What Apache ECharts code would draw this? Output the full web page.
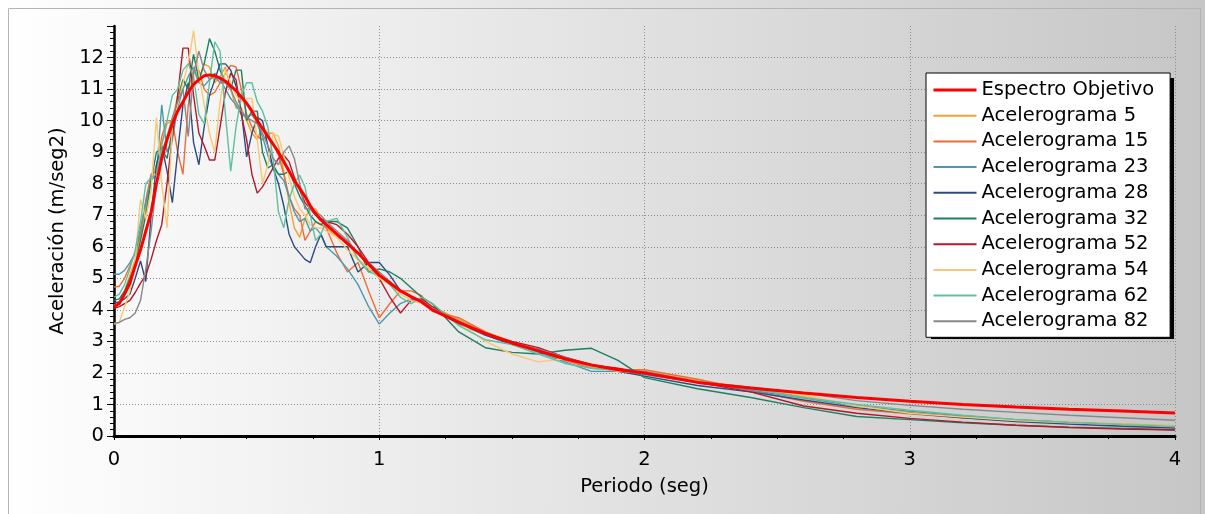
<!DOCTYPE html>
<html>
<head>
<meta charset="utf-8">
<script src="https://cdn.jsdelivr.net/npm/echarts@6/dist/echarts.min.js"></script>
<style>
  html, body { margin: 0; padding: 0; }
  body { width: 1205px; height: 514px; background: linear-gradient(to right, #ffffff 0%, #c6c6c6 100%); overflow: hidden; }
  #chart { width: 1205px; height: 514px; }
</style>
</head>
<body>
<div id="chart"></div>
<script>
// Periods (s)
const periods = [0,0.02,0.04,0.06,0.08,0.1,0.12,0.14,0.16,0.18,0.2,0.22,0.24,0.26,0.28,0.3,0.32,0.34,0.36,0.38,0.4,0.42,0.44,0.46,0.48,0.5,0.52,0.54,0.56,0.58,0.6,0.62,0.64,0.66,0.68,0.7,0.72,0.74,0.76,0.78,0.8,0.84,0.88,0.92,0.96,1.0,1.04,1.08,1.12,1.16,1.2,1.3,1.4,1.5,1.6,1.7,1.8,1.9,2.0,2.2,2.4,2.6,2.8,3.0,3.2,3.4,3.6,3.8,4.0];

const espectroObjetivo = [4.1,4.2,4.5,4.85,5.4,5.9,6.5,7.1,8.0,8.8,9.4,
  9.9,10.3,10.6,10.9,11.15,11.3,11.42,11.45,11.42,11.35,
  11.25,11.1,10.95,10.75,10.55,10.3,10.0,9.75,9.5,9.25,
  9.0,8.7,8.4,8.1,7.85,7.6,7.3,7.05,6.85,6.7,
  6.4,6.1,5.8,5.45,
  5.1,4.85,4.6,4.42,4.25,4.0,3.6,3.25,2.95,2.7,2.45,2.25,2.1,
  2.0,1.7,1.52,1.36,1.22,1.1,1.0,0.92,0.85,0.79,0.73];

const acel5 = [4.15,4.2,4.6,5.1,5.6,6.4,7.2,8.1,8.6,9.3,9.9,
  10.0,10.8,11.3,11.0,11.6,11.2,11.8,11.7,11.2,11.4,
  11.7,11.0,10.4,10.4,10.0,9.6,9.4,9.8,9.6,9.6,
  9.2,8.4,7.4,6.6,6.3,6.9,7.2,7.2,6.9,6.6,
  6.3,6.2,5.6,5.3,
  5.0,4.9,4.6,4.4,4.3,4.1,3.7,3.3,3.0,2.75,2.5,2.25,2.1,
  2.05,1.75,1.5,1.25,0.98,0.75,0.62,0.52,0.44,0.38,0.33];

const acel15 = [4.72,4.75,5.0,5.4,5.8,6.4,7.5,8.3,8.4,9.5,10.0,
  10.0,9.0,8.3,10.5,11.6,11.6,11.0,10.8,10.9,11.2,
  11.5,11.75,11.7,11.0,10.2,9.8,9.5,9.4,9.5,9.3,
  8.9,8.3,7.6,7.2,7.0,6.2,6.5,6.8,6.7,6.6,
  5.8,5.2,5.5,4.6,
  3.75,4.2,4.6,4.6,4.45,3.95,3.75,3.3,2.95,2.7,2.4,2.15,2.1,
  2.1,1.8,1.45,1.1,0.85,0.7,0.58,0.48,0.4,0.34,0.28];

const acel23 = [5.13,5.13,5.25,5.5,5.8,6.6,7.4,8.1,8.3,10.5,9.0,
  9.4,10.4,11.0,11.4,11.7,11.2,11.1,11.3,11.5,11.3,
  11.0,10.7,10.5,10.2,10.1,10.2,9.9,9.5,8.9,8.5,
  8.3,8.1,7.6,7.1,6.8,6.9,6.5,6.6,6.4,6.0,
  5.7,5.3,4.8,4.1,
  3.55,3.9,4.2,4.35,4.3,4.05,3.55,3.2,2.95,2.65,2.35,2.05,2.05,
  1.95,1.7,1.45,1.2,0.95,0.78,0.64,0.52,0.43,0.36,0.31];

const acel28 = [4.22,4.25,4.35,4.5,5.0,5.55,4.9,7.0,8.6,9.2,8.4,
  7.4,9.0,10.5,11.2,9.3,8.6,9.8,10.8,11.3,11.8,
  11.8,11.6,11.1,10.3,8.85,9.6,10.1,10.0,9.2,8.5,
  8.0,7.3,6.4,6.0,5.8,5.6,5.5,6.0,6.4,6.0,
  6.0,6.0,5.2,5.5,
  5.5,5.1,4.6,4.4,4.3,4.0,3.6,3.2,2.9,2.75,2.45,2.2,2.05,
  1.9,1.6,1.4,1.14,0.9,0.72,0.58,0.46,0.38,0.31,0.25];

const acel32 = [4.3,4.35,4.6,5.0,5.4,6.2,7.0,8.1,9.0,9.1,8.8,
  9.7,10.6,11.3,11.0,12.1,11.3,11.8,12.6,12.2,11.6,
  11.2,11.0,11.6,11.6,10.0,10.3,10.3,9.0,8.5,8.6,
  8.3,8.3,8.4,8.0,7.6,7.3,7.0,6.8,6.7,6.8,
  6.8,6.6,6.0,5.2,
  5.3,5.2,5.0,4.7,4.4,4.2,3.3,2.8,2.65,2.6,2.72,2.78,2.4,
  1.85,1.5,1.22,0.9,0.62,0.52,0.42,0.34,0.28,0.24,0.2];

const acel52 = [4.05,4.1,4.2,4.3,4.55,4.85,5.1,5.6,6.2,6.7,8.0,
  9.5,10.8,12.3,12.3,10.8,9.6,9.2,8.75,8.75,9.8,
  10.9,11.5,11.3,10.2,9.4,8.3,7.7,7.9,8.2,8.5,
  8.8,8.9,8.7,8.2,7.8,7.4,7.2,7.0,6.9,6.8,
  6.7,6.4,6.0,5.5,
  5.0,4.4,3.9,4.3,4.35,4.1,3.6,3.25,3.0,2.8,2.5,2.25,2.15,
  2.0,1.7,1.4,0.95,0.72,0.56,0.44,0.34,0.27,0.22,0.19];

const acel54 = [3.55,3.6,4.1,4.6,5.6,7.5,6.9,7.8,10.1,8.0,6.6,
  9.8,10.5,11.2,11.8,12.85,11.5,10.5,9.6,9.0,10.6,
  11.6,11.2,10.8,10.6,10.7,10.7,9.4,8.0,8.6,9.6,
  9.5,8.9,8.2,7.6,7.2,7.0,6.7,6.6,6.6,6.5,
  6.3,5.9,5.6,5.3,
  5.0,4.8,4.5,4.3,4.2,4.05,3.6,3.0,2.6,2.35,2.45,2.2,2.05,
  2.0,1.72,1.55,1.3,0.95,0.72,0.6,0.49,0.42,0.36,0.32];

const acel62 = [4.4,4.5,4.8,5.3,5.9,6.8,8.0,8.2,8.3,9.2,10.0,
  10.8,11.0,11.6,11.8,11.4,10.2,9.9,11.2,12.5,12.2,
  10.2,8.4,9.8,10.8,11.2,11.2,10.6,10.3,9.8,8.8,
  7.1,6.6,7.5,8.0,8.27,7.9,7.0,6.2,6.4,6.8,
  6.9,6.3,5.6,5.2,
  5.1,4.8,4.4,4.2,4.4,4.2,3.5,3.05,2.9,2.6,2.3,2.15,2.1,
  2.0,1.7,1.5,1.22,1.0,0.82,0.66,0.52,0.43,0.36,0.3];

const acel82 = [3.58,3.6,3.7,3.75,3.9,4.3,5.3,6.5,8.0,9.0,9.5,
  10.1,10.6,11.0,9.5,11.5,12.2,11.6,11.3,11.4,11.2,
  11.2,11.0,10.6,10.3,10.1,10.0,9.9,9.6,9.2,8.8,
  8.6,9.0,9.2,8.8,8.0,7.2,7.2,7.1,7.0,6.8,
  6.5,6.2,5.8,5.5,
  5.2,4.9,4.6,4.4,4.3,4.05,3.65,3.25,2.95,2.75,2.5,2.25,2.1,
  2.05,1.72,1.55,1.36,1.12,0.97,0.85,0.75,0.66,0.58,0.5];

const seriesNames = ['Espectro Objetivo','Acelerograma 5','Acelerograma 15','Acelerograma 23','Acelerograma 28','Acelerograma 32','Acelerograma 52','Acelerograma 54','Acelerograma 62','Acelerograma 82'];
const seriesValues = [espectroObjetivo, acel5, acel15, acel23, acel28, acel32, acel52, acel54, acel62, acel82];
const seriesColors = ['#ff0000','#f5a030','#f26a36','#4a9aae','#2e4a82','#1f7f62','#b2182b','#f9c870','#5fc0a0','#888888'];

const FONT = 'DejaVu Sans';
const chart = echarts.init(document.getElementById('chart'), null, { renderer: 'canvas' });

const series = [];
// acelerogramas first, target spectrum drawn on top
for (let s = 1; s < seriesNames.length; s++) {
  series.push({
    name: seriesNames[s], type: 'line', symbol: 'none', z: 2,
    data: periods.map((t, i) => [t, seriesValues[s][i]]),
    lineStyle: { color: seriesColors[s], width: 1.4 },
    itemStyle: { color: seriesColors[s] },
    emphasis: { disabled: true }, animation: false
  });
}
series.push({
  name: seriesNames[0], type: 'line', symbol: 'none', z: 3,
  data: periods.map((t, i) => [t, seriesValues[0][i]]),
  lineStyle: { color: seriesColors[0], width: 3 },
  itemStyle: { color: seriesColors[0] },
  emphasis: { disabled: true }, animation: false
});

chart.setOption({
  backgroundColor: 'transparent',
  animation: false,
  textStyle: { fontFamily: FONT },
  grid: { left: 114, right: 30, top: 26, bottom: 78, containLabel: false, outerBoundsMode: 'none' },
  graphic: [
    { type: 'rect', left: 6, top: 6, z: 0, silent: true,
      shape: { x: 0.5, y: 0.5, width: 1192, height: 520 },
      style: { fill: 'none', stroke: '#b4b4b4', lineWidth: 1 } },
    { type: 'rect', left: 931, top: 78, z: 3, silent: true,
      shape: { x: 0, y: 0, width: 243, height: 261 },
      style: { fill: '#000000' } }
  ],
  legend: {
    data: seriesNames.map((n, i) => ({ name: n, lineStyle: { width: i === 0 ? 3 : 2 } })),
    orient: 'vertical',
    left: 926, top: 73, z: 10,
    padding: [7, 16, 6, 6],
    itemWidth: 43, itemHeight: 14, itemGap: 5.7,
    backgroundColor: '#ffffff', borderColor: '#000000', borderWidth: 1, borderRadius: 0,
    itemStyle: { color: 'rgba(0,0,0,0)', borderColor: 'rgba(0,0,0,0)', borderWidth: 0, opacity: 0 },
    textStyle: { fontFamily: FONT, fontSize: 19.5, color: '#000', lineHeight: 19.7 },
    selectedMode: false
  },
  xAxis: {
    type: 'value', min: 0, max: 4, interval: 1,
    name: 'Periodo (seg)', nameLocation: 'middle', nameGap: 41,
    nameTextStyle: { fontFamily: FONT, fontSize: 19.5, color: '#000' },
    axisLine: { show: true, onZero: false, lineStyle: { color: '#000', width: 3 } },
    axisTick: { show: true, length: 4, lineStyle: { color: '#000', width: 1 } },
    minorTick: { show: true, splitNumber: 4, length: 3, lineStyle: { color: '#000', width: 1 } },
    axisLabel: { fontFamily: FONT, fontSize: 19.5, color: '#000', margin: 14 },
    splitLine: { show: true, showMinLine: false, lineStyle: { color: '#8a8a8a', width: 1, type: [1, 2] } }
  },
  yAxis: {
    type: 'value', min: 0, max: 13, interval: 1,
    name: 'Aceleración (m/seg2)', nameLocation: 'middle', nameGap: 44, nameRotate: 90,
    nameTextStyle: { fontFamily: FONT, fontSize: 19.5, color: '#000' },
    axisLine: { show: true, lineStyle: { color: '#000', width: 2.5 } },
    axisTick: { show: true, length: 7, lineStyle: { color: '#000', width: 1 } },
    minorTick: { show: true, splitNumber: 5, length: 4, lineStyle: { color: '#000', width: 1 } },
    axisLabel: { fontFamily: FONT, fontSize: 19.5, color: '#000', margin: 10,
      formatter: v => (v === 13 ? '' : String(v)) },
    splitLine: { show: true, showMinLine: false, showMaxLine: false, lineStyle: { color: '#8a8a8a', width: 1, type: [1, 2] } }
  },
  series: series
});
</script>
</body>
</html>
